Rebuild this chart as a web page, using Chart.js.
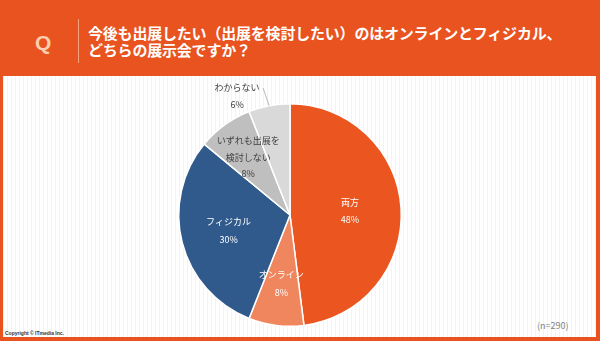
<!DOCTYPE html>
<html>
<head>
<meta charset="utf-8">
<script src="https://cdn.jsdelivr.net/npm/chart.js@4.4.1/dist/chart.umd.min.js"></script>
<style>
  html, body { margin: 0; padding: 0; }
  body {
    width: 600px; height: 341px; position: relative; overflow: hidden;
    background: #e9531f;
    font-family: "Noto Sans CJK JP", "Noto Sans", sans-serif;
  }
  #panel {
    position: absolute; left: 3px; top: 76px; width: 593px; height: 261px;
    background-color: #fff;
    background-image: repeating-linear-gradient(90deg, #f3f3f3 0px, #f3f3f3 1px, transparent 1px, transparent 4px);
  }
  #q {
    position: absolute; left: 35px; top: 31px; color: #fbcfae;
    font: bold 21px "Liberation Sans", Arial, sans-serif;
  }
  #divider {
    position: absolute; left: 78px; top: 19px; width: 1px; height: 44px; background: #f4a27f;
  }
  #title {
    position: absolute; left: 88px; top: 24px; color: #fff;
    font-weight: bold; font-size: 15px; line-height: 17px; letter-spacing: -0.2px;
  }
  #n { position: absolute; left: 537px; top: 319px; color: #7f7f7f; font-size: 9px; }
  #copy { position: absolute; left: 5px; top: 330px; color: #333; font: bold 5px "Liberation Sans", sans-serif; }
  #wrap { position: absolute; left: 0; top: 0; width: 600px; height: 341px; }
</style>
</head>
<body>
<div id="panel"></div>
<div id="q">Q</div>
<div id="divider"></div>
<div id="title">今後も出展したい（出展を検討したい）のはオンラインとフィジカル、<br>どちらの展示会ですか？</div>
<div id="n">(n=290)</div>
<div id="copy">Copyright © ITmedia Inc.</div>
<div id="wrap"><canvas id="pieChart" width="600" height="341"></canvas></div>
<script>
const categories = ['両方', 'オンライン', 'フィジカル', 'いずれも出展を\n検討しない', 'わからない'];
const shares = [48, 8, 30, 8, 6];
const sliceColors = ['#ea5520', '#f0865e', '#305a8c', '#bfbfbf', '#d9d9d9'];
const labelColors = ['#ffffff', '#ffffff', '#ffffff', '#404040', '#404040'];

// label distance from centre as a share of the radius
const labelRadius = [0.54, 0.62, 0.57, 0.64];

const sliceLabels = {
    id: 'sliceLabels',
    afterDatasetsDraw(chart) {
        const ctx = chart.ctx;
        const meta = chart.getDatasetMeta(0);
        ctx.save();
        ctx.font = '9px "Noto Sans CJK JP", sans-serif';
        ctx.textAlign = 'center';
        ctx.textBaseline = 'middle';
        meta.data.forEach((arc, i) => {
            const mid = (arc.startAngle + arc.endAngle) / 2;
            const r = arc.outerRadius;
            const lines = categories[i].split('\n').concat([shares[i] + '%']);
            let x, y, gap = 17.5;
            if (i < labelRadius.length) {
                x = arc.x + Math.cos(mid) * r * labelRadius[i];
                y = arc.y + Math.sin(mid) * r * labelRadius[i];
                if (lines.length > 2) gap = 16.5;
            } else {
                // outside label with leader line
                const a = mid - 0.23;
                x = arc.x + Math.cos(a) * r * 1.17;
                y = arc.y + Math.sin(a) * r * 1.17;
                ctx.strokeStyle = '#a6a6a6';
                ctx.lineWidth = 0.8;
                ctx.beginPath();
                ctx.moveTo(x + 26, y - 8);
                ctx.lineTo(arc.x + Math.cos(mid) * r, arc.y + Math.sin(mid) * r);
                ctx.stroke();
            }
            ctx.fillStyle = labelColors[i];
            const top = y - gap * (lines.length - 1) / 2;
            lines.forEach((t, k) => ctx.fillText(t, x, top + k * gap));
        });
        ctx.restore();
    }
};

const pieChart = new Chart(document.getElementById('pieChart'), {
    type: 'pie',
    data: {
        labels: categories,
        datasets: [{
            data: shares,
            backgroundColor: sliceColors,
            borderColor: '#ffffff',
            borderWidth: 1.5
        }]
    },
    options: {
        responsive: false,
        animation: false,
        layout: {
            padding: { left: 178, right: 198, top: 103, bottom: 14 }
        },
        plugins: {
            legend: { display: false },
            tooltip: { enabled: false }
        }
    },
    plugins: [sliceLabels]
});
</script>
</body>
</html>
